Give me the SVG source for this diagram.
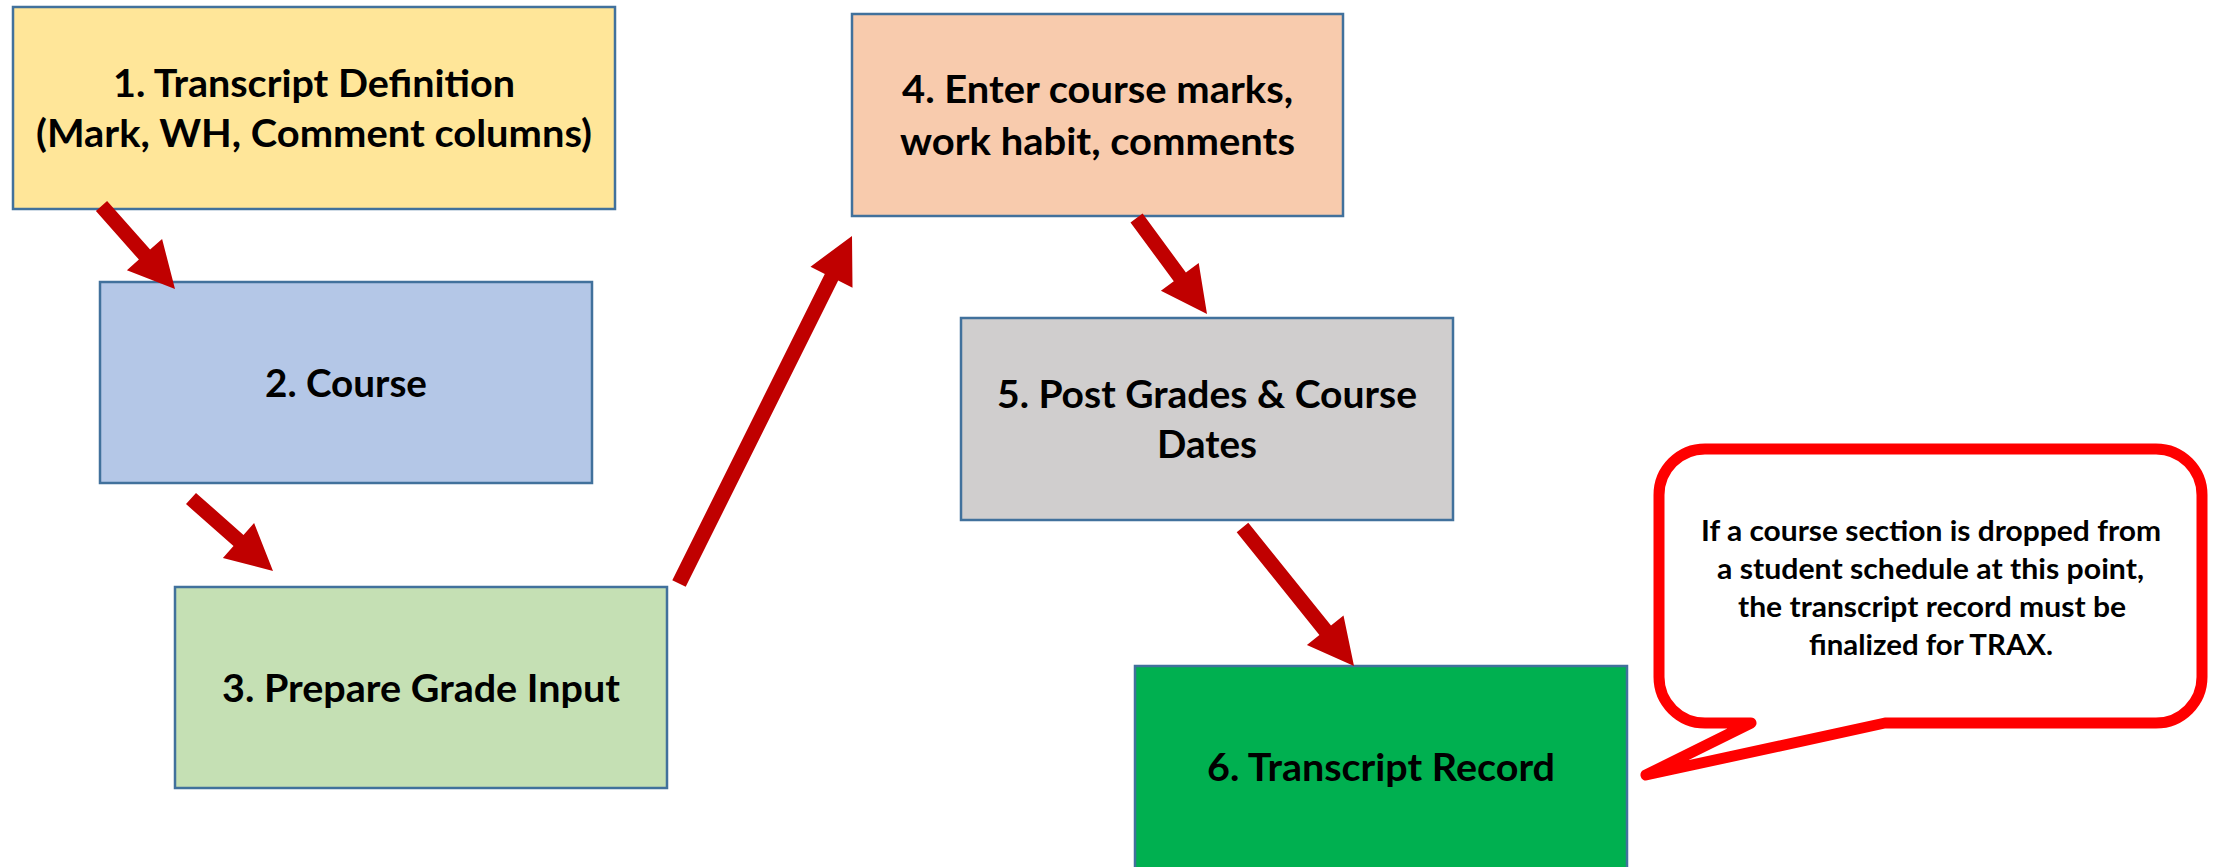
<svg xmlns="http://www.w3.org/2000/svg" width="2223" height="867" viewBox="0 0 2223 867">
  <style>
    .box { stroke: #41719C; stroke-width: 2.5; }
    .lbl { font-family: Lato, "Open Sans", "Liberation Sans", sans-serif; font-weight: 700; font-size: 38px; fill: #000; }
    .note { font-family: Lato, "Open Sans", "Liberation Sans", sans-serif; font-weight: 700; font-size: 29px; fill: #000; }
    .arrow { fill: #C00000; }
    .bubble { fill: #FFFFFF; stroke: #FF0000; stroke-width: 11; stroke-linejoin: round; }
  </style>
  <rect width="2223" height="867" fill="#FFFFFF"/>

  <!-- process steps -->
  <g id="step1">
    <rect class="box" x="13" y="7" width="602" height="202" fill="#FFE699"/>
    <text class="lbl" x="113" y="97" textLength="402" lengthAdjust="spacingAndGlyphs">1. Transcript Definition</text>
    <text class="lbl" x="36" y="147" textLength="556" lengthAdjust="spacingAndGlyphs">(Mark, WH, Comment columns)</text>
  </g>
  <g id="step2">
    <rect class="box" x="100" y="282" width="492" height="201" fill="#B4C7E7"/>
    <text class="lbl" x="265" y="397" textLength="162" lengthAdjust="spacingAndGlyphs">2. Course</text>
  </g>
  <g id="step3">
    <rect class="box" x="175" y="587" width="492" height="201" fill="#C5E0B4"/>
    <text class="lbl" x="222" y="702" textLength="398" lengthAdjust="spacingAndGlyphs">3. Prepare Grade Input</text>
  </g>
  <g id="step4">
    <rect class="box" x="852" y="14" width="491" height="202" fill="#F8CBAD"/>
    <text class="lbl" x="902" y="103" textLength="391" lengthAdjust="spacingAndGlyphs">4. Enter course marks,</text>
    <text class="lbl" x="900" y="155" textLength="395" lengthAdjust="spacingAndGlyphs">work habit, comments</text>
  </g>
  <g id="step5">
    <rect class="box" x="961" y="318" width="492" height="202" fill="#D0CECE"/>
    <text class="lbl" x="997" y="408" textLength="420" lengthAdjust="spacingAndGlyphs">5. Post Grades &amp; Course</text>
    <text class="lbl" x="1157" y="458" textLength="100" lengthAdjust="spacingAndGlyphs">Dates</text>
  </g>
  <g id="step6">
    <rect class="box" x="1135" y="666" width="492" height="210" fill="#00B050"/>
    <text class="lbl" x="1207" y="781" textLength="348" lengthAdjust="spacingAndGlyphs">6. Transcript Record</text>
  </g>

  <!-- callout -->
  <g id="note">
    <path class="bubble" d="M 1705,449 H 2156 A 46 46 0 0 1 2202,495 V 677 A 46 46 0 0 1 2156,723 H 1885 L 1646,775 L 1751,723 H 1705 A 46 46 0 0 1 1659,677 V 495 A 46 46 0 0 1 1705,449 Z"/>
    <text class="note" x="1701" y="541" textLength="460" lengthAdjust="spacingAndGlyphs">If a course section is dropped from</text>
    <text class="note" x="1717" y="579" textLength="427" lengthAdjust="spacingAndGlyphs">a student schedule at this point,</text>
    <text class="note" x="1738" y="617" textLength="388" lengthAdjust="spacingAndGlyphs">the transcript record must be</text>
    <text class="note" x="1809" y="655" textLength="244" lengthAdjust="spacingAndGlyphs">finalized for TRAX.</text>
  </g>

  <!-- block arrows between steps -->
  <g id="connectors">
    <polygon class="arrow" points="95.9,211.0 138.9,259.6 126.9,270.2 175,289 162.1,239.0 150.1,249.6 107.1,201.0"/>
    <polygon class="arrow" points="186.0,504.1 233.5,546.1 222.9,558.1 273,571 254.1,522.9 243.5,534.9 196.0,492.9"/>
    <polygon class="arrow" points="685.7,586.8 838.2,280.5 852.5,287.7 852,236 810.5,266.7 824.8,273.9 672.3,580.2"/>
    <polygon class="arrow" points="1130.5,222.4 1173.8,281.3 1160.9,290.8 1207,314 1198.7,263.0 1185.9,272.5 1142.6,213.6"/>
    <polygon class="arrow" points="1236.7,532.2 1319.4,634.9 1306.9,644.9 1354,666 1343.5,615.5 1331.0,625.5 1248.3,522.8"/>
  </g>
</svg>
